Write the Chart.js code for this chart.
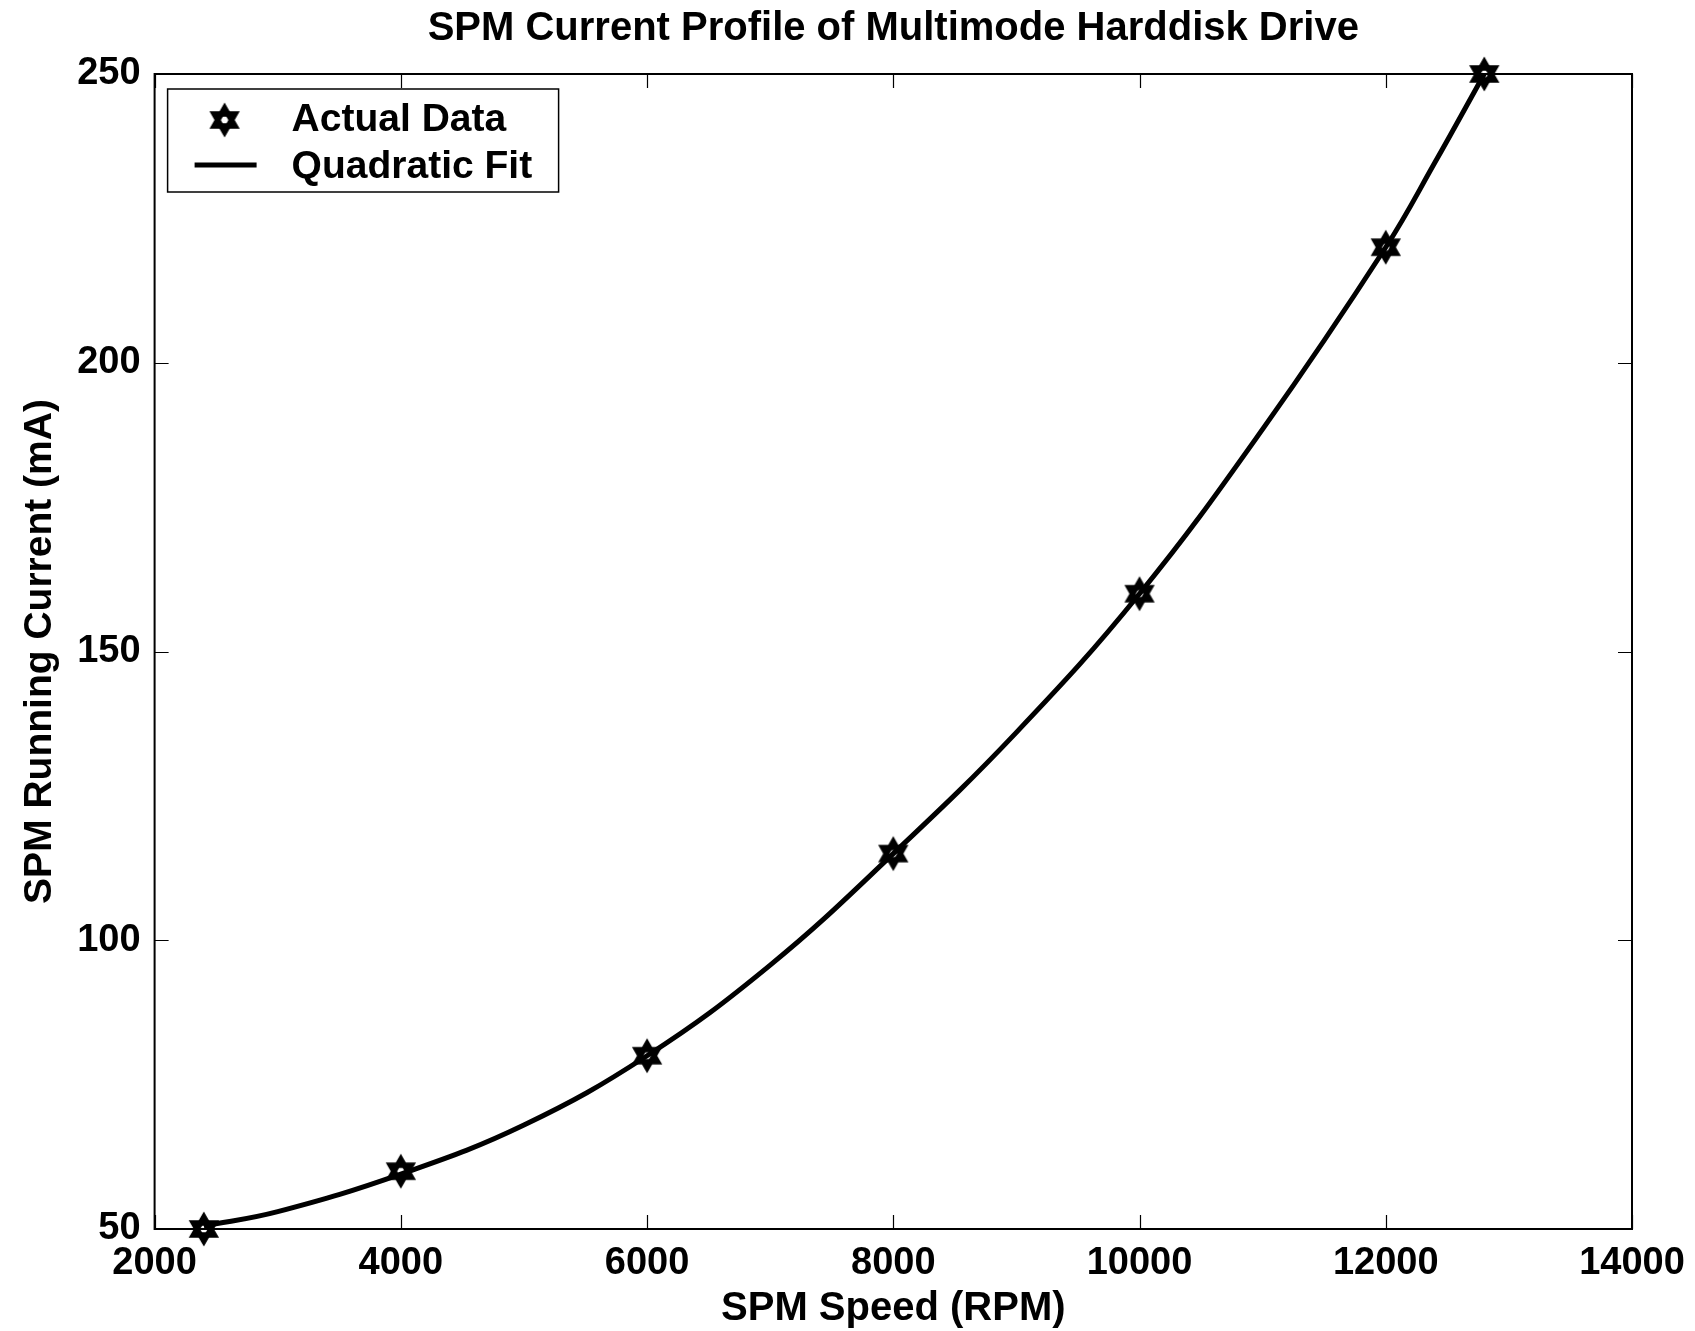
<!DOCTYPE html>
<html>
<head>
<meta charset="utf-8">
<title>SPM Current Profile</title>
<script src="https://cdn.jsdelivr.net/npm/chart.js@4.4.1/dist/chart.umd.min.js"></script>
<style>
    html, body { margin: 0; padding: 0; background: #fff; }
    #wrap { width: 1695px; height: 1331px; position: relative; }
</style>
</head>
<body>
<div id="wrap"><canvas id="spm-chart"></canvas></div>
<script>
// Measured points (RPM vs mA)
const speedRpm = [2400, 4000, 6000, 8000, 10000, 12000, 12800];
const currentMa = [50, 60, 80, 115, 160, 220, 250];

// Quadratic fit line
const fitSpeed = [2400, 3000, 4000, 5000, 6000, 7000, 8000, 9000, 10000, 11000, 12000, 12400, 12800];
const fitCurrent = [50.5, 53, 59.5, 68, 80, 95.7, 115, 136, 160, 188.5, 220, 234.7, 250];

const xTicks = [2000, 4000, 6000, 8000, 10000, 12000, 14000];
const yTicks = [50, 100, 150, 200, 250];

const FONT = "'Liberation Sans', Arial, Helvetica, sans-serif";

// hexagram marker like matlab 'h'
function makeHexagram(size, r, lw) {
    const c = document.createElement('canvas');
    c.width = size;
    c.height = size;
    const g = c.getContext('2d');
    const cx = size / 2, cy = size / 2;
    g.strokeStyle = '#000';
    g.lineWidth = lw;
    g.lineJoin = 'miter';
    [-90, 90].forEach(start => {
        g.beginPath();
        for (let i = 0; i < 3; i++) {
            const a = (start + i * 120) * Math.PI / 180;
            const px = cx + r * Math.cos(a), py = cy + r * Math.sin(a);
            if (i === 0) g.moveTo(px, py); else g.lineTo(px, py);
        }
        g.closePath();
        g.stroke();
    });
    return c;
}

const starMark = makeHexagram(40, 12, 5.5);

// box + inward ticks on all four sides
const boxPlugin = {
    id: 'boxPlugin',
    beforeDatasetsDraw(chart) {
        const {ctx, chartArea: a, scales} = chart;
        const len = 14;
        ctx.save();
        ctx.strokeStyle = '#000';
        ctx.lineWidth = 1.2;
        ctx.beginPath();
        xTicks.forEach(v => {
            const px = Math.round(scales.x.getPixelForValue(v)) + 0.5;
            ctx.moveTo(px, a.bottom); ctx.lineTo(px, a.bottom - len);
            ctx.moveTo(px, a.top); ctx.lineTo(px, a.top + len);
        });
        yTicks.forEach(v => {
            const py = Math.round(scales.y.getPixelForValue(v)) + 0.5;
            ctx.moveTo(a.left, py); ctx.lineTo(a.left + len, py);
            ctx.moveTo(a.right, py); ctx.lineTo(a.right - len, py);
        });
        ctx.stroke();
        ctx.lineWidth = 2;
        ctx.strokeRect(a.left, a.top, a.right - a.left, a.bottom - a.top);
        ctx.restore();
    },
    afterDraw(chart) {
        // legend box, top left inside the axes
        const {ctx, chartArea: a} = chart;
        const ds = chart.data.datasets;
        const bx = a.left + 13, by = a.top + 15, bw = 391, bh = 103;
        ctx.save();
        ctx.fillStyle = '#fff';
        ctx.fillRect(bx, by, bw, bh);
        ctx.strokeStyle = '#000';
        ctx.lineWidth = 1.5;
        ctx.strokeRect(bx, by, bw, bh);

        ctx.drawImage(starMark, bx + 57 - starMark.width / 2, by + 31 - starMark.height / 2);
        ctx.lineWidth = 5;
        ctx.beginPath();
        ctx.moveTo(bx + 27, by + 76);
        ctx.lineTo(bx + 89, by + 76);
        ctx.stroke();

        ctx.fillStyle = '#000';
        ctx.font = 'bold 39px ' + FONT;
        ctx.textBaseline = 'middle';
        ctx.textAlign = 'left';
        ctx.fillText(ds[0].label, bx + 124, by + 31);
        ctx.fillText(ds[1].label, bx + 124, by + 78);
        ctx.restore();
    }
};

function zeroPad(scale) {
    scale.paddingLeft = 0;
    scale.paddingRight = 0;
    scale.paddingTop = 0;
    scale.paddingBottom = 0;
}

const ctx = document.getElementById('spm-chart').getContext('2d');
new Chart(ctx, {
    type: 'scatter',
    data: {
        datasets: [{
            label: 'Actual Data',
            data: speedRpm.map((x, i) => ({x: x, y: currentMa[i]})),
            pointStyle: starMark,
            showLine: false,
            clip: false,
            order: 0
        }, {
            label: 'Quadratic Fit',
            data: fitSpeed.map((x, i) => ({x: x, y: fitCurrent[i]})),
            showLine: true,
            borderColor: '#000',
            borderWidth: 5,
            pointRadius: 0,
            tension: 0.4,
            clip: false,
            order: 1
        }]
    },
    options: {
        responsive: true,
        maintainAspectRatio: false,
        animation: false,
        layout: {
            padding: {left: 0, right: 63, top: 0, bottom: 0}
        },
        plugins: {
            legend: {display: false},
            tooltip: {enabled: false},
            title: {
                display: true,
                fullSize: false,
                text: 'SPM Current Profile of Multimode Harddisk Drive',
                color: '#000',
                font: {family: FONT, size: 40, weight: 'bold', lineHeight: 1.2},
                padding: {top: 5, bottom: 21}
            }
        },
        scales: {
            x: {
                type: 'linear',
                min: 2000,
                max: 14000,
                afterBuildTicks: s => { s.ticks = xTicks.map(v => ({value: v})); },
                afterFit: s => { s.height = 102; zeroPad(s); },
                grid: {display: false, drawTicks: false},
                border: {display: false},
                ticks: {
                    autoSkip: false,
                    maxRotation: 0,
                    padding: 12,
                    color: '#000',
                    callback: v => String(v),
                    font: {family: FONT, size: 38, weight: 'bold', lineHeight: 1.2}
                },
                title: {
                    display: true,
                    text: 'SPM Speed (RPM)',
                    color: '#000',
                    padding: {top: 0, bottom: 0},
                    font: {family: FONT, size: 40, weight: 'bold', lineHeight: 1.1}
                }
            },
            y: {
                type: 'linear',
                min: 50,
                max: 250,
                afterBuildTicks: s => { s.ticks = yTicks.map(v => ({value: v})); },
                afterFit: s => { s.width = 154.6; zeroPad(s); },
                grid: {display: false, drawTicks: false},
                border: {display: false},
                ticks: {
                    autoSkip: false,
                    padding: 14,
                    color: '#000',
                    callback: v => String(v),
                    font: {family: FONT, size: 38, weight: 'bold', lineHeight: 1.2}
                },
                title: {
                    display: true,
                    text: 'SPM Running Current (mA)',
                    color: '#000',
                    padding: {top: 17, bottom: 0},
                    font: {family: FONT, size: 39, weight: 'bold', lineHeight: 1.2}
                }
            }
        }
    },
    plugins: [boxPlugin]
});
</script>
</body>
</html>
